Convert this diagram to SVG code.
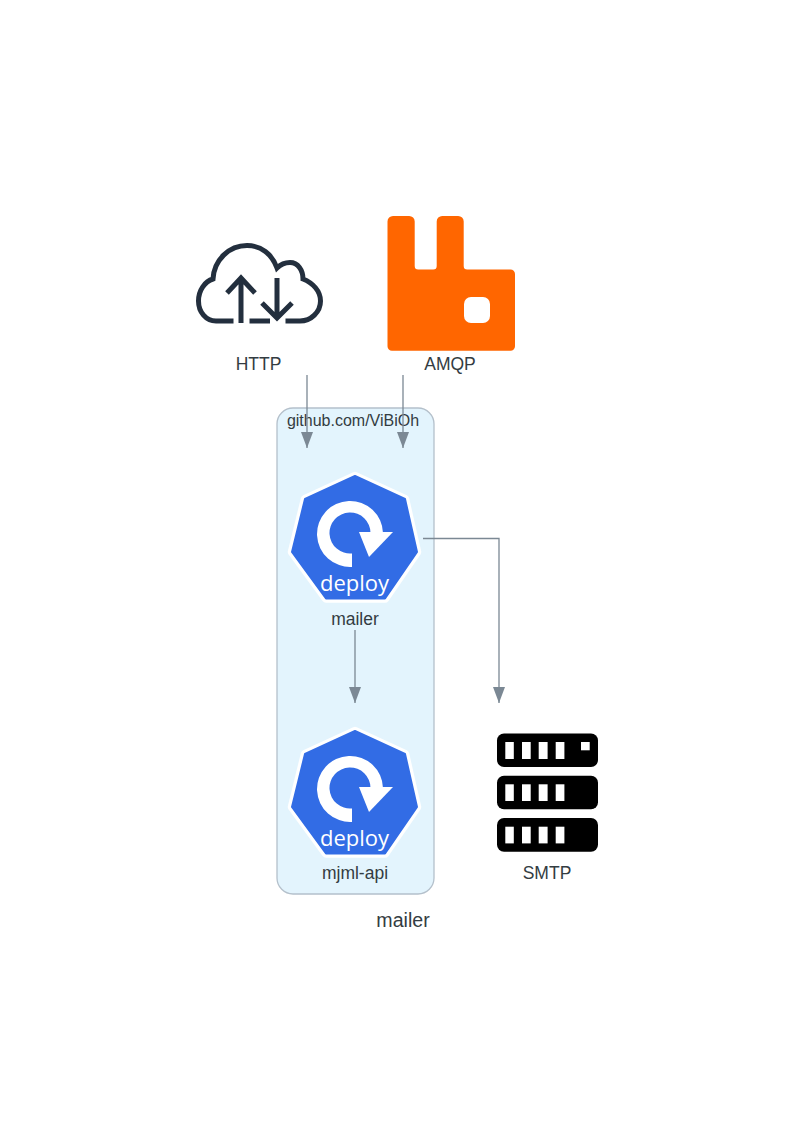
<svg xmlns="http://www.w3.org/2000/svg" width="807" height="1131" viewBox="0 0 807 1131">
<style>
text{font-family:"Liberation Sans",Arial,sans-serif;fill:#333c42;text-anchor:middle}
.lbl{font-size:17.5px}
.sm{font-size:16px}
.big{font-size:19.6px}
.dep{font-size:22px;fill:#fff;font-family:"Open Sans","Liberation Sans",sans-serif}
.edge{fill:none;stroke:#7b8894;stroke-width:1.3;marker-end:url(#arrow)}
.bar{fill:#fff}
</style>
<defs>
<marker id="arrow" markerUnits="userSpaceOnUse" markerWidth="17" markerHeight="13" refX="16" refY="6" orient="auto">
<path d="M0 0L16 6L0 12Z" fill="#7b8894"/>
</marker>
<g id="deployIcon">
<path d="M355 476L405 499L417 552L385 598.500H326L292 552L305 499Z" fill="#fff" stroke="#fff" stroke-width="8.500" stroke-linejoin="round"/>
<path d="M355 476L405 499L417 552L385 598.500H326L292 552L305 499Z" fill="#326ce5" stroke="#326ce5" stroke-width="2" stroke-linejoin="round"/>
<path d="M352 566.900A33 33 0 1 1 383 533H370.500A20.500 20.500 0 1 0 352 553.400Z" fill="#fff"/>
<path d="M359 532H393L369 557Z" fill="#fff"/>
</g>
</defs>
<rect width="807" height="1131" fill="#fff"/>
<g id="cluster-mailer">
<rect x="277" y="408" width="157" height="486" rx="16" ry="16" fill="#e3f4fd" stroke="#b4c0cb" stroke-width="1.3"/>
<text class="sm" x="353" y="426">github.com/ViBiOh</text>
<text class="big" x="403" y="927">mailer</text>
</g>
<g id="node-http">
<g fill="none" stroke="#232f3e" stroke-width="5">
<path d="M233.500 321H216C206 321 198.500 312 198.500 301C198.500 290 205 281.500 213 279C214 260 229 245.500 247 245.500C261 245.500 272 254 277 268C281 264 286 262.500 290 262.500C298 262.500 303 270 303 279C313 283 320.500 291 320.500 301C320.500 312 311 321 300 321H285.500"/>
<path d="M241 323V279M227 293L241 278L255 293"/>
<path d="M277 278V318M262 303L277 318L292 303"/>
<path d="M249.500 321H270"/>
</g>
<text class="lbl" x="258.500" y="370">HTTP</text>
</g>
<g id="node-amqp">
<path fill="#ff6600" d="M393 216H409.200a5.500 5.500 0 0 1 5.500 5.500V266a3.500 3.500 0 0 0 3.500 3.500H433.200a3.500 3.500 0 0 0 3.500-3.500V221.500a5.500 5.500 0 0 1 5.500-5.500H458.200a5.500 5.500 0 0 1 5.500 5.500V266a3.500 3.500 0 0 0 3.500 3.500H510.500a4.500 4.500 0 0 1 4.500 4.500V346.200a4.500 4.500 0 0 1-4.500 4.500H392a4.500 4.500 0 0 1-4.500-4.500V221.500a5.500 5.500 0 0 1 5.500-5.500Z"/>
<rect x="464" y="297" width="26" height="26" rx="7" fill="#fff"/>
<text class="lbl" x="450" y="370">AMQP</text>
</g>
<g id="node-mailer">
<use href="#deployIcon"/>
<text class="dep" x="354.500" y="591">deploy</text>
<text class="lbl" x="355" y="625">mailer</text>
</g>
<g id="node-mjml-api">
<use href="#deployIcon" y="255"/>
<text class="dep" x="354.500" y="846">deploy</text>
<text class="lbl" x="355" y="879">mjml-api</text>
</g>
<g id="node-smtp">
<rect x="497" y="733.500" width="101" height="33.500" rx="7"/>
<rect x="497" y="775.700" width="101" height="33.500" rx="7"/>
<rect x="497" y="818" width="101" height="33.700" rx="7"/>
<g class="bar">
<rect x="505.300" y="742" width="8.500" height="17"/><rect x="522" y="742" width="8.700" height="17"/><rect x="538.700" y="742" width="8.900" height="17"/><rect x="555.700" y="742" width="8.700" height="17"/><rect x="581" y="742" width="8.700" height="8.300"/>
<rect x="505.300" y="784.300" width="8.500" height="16.700"/><rect x="522" y="784.300" width="8.700" height="16.700"/><rect x="538.700" y="784.300" width="8.900" height="16.700"/><rect x="555.700" y="784.300" width="8.700" height="16.700"/>
<rect x="505.300" y="826.700" width="8.500" height="16.700"/><rect x="522" y="826.700" width="8.700" height="16.700"/><rect x="538.700" y="826.700" width="8.900" height="16.700"/><rect x="555.700" y="826.700" width="8.700" height="16.700"/>
</g>
<text class="lbl" x="547" y="879">SMTP</text>
</g>
<g id="connectors">
<path class="edge" d="M307 375V448"/>
<path class="edge" d="M403 375V448"/>
<path class="edge" d="M355 630V703"/>
<path class="edge" d="M423 538.500H499V703"/>
</g>
</svg>
